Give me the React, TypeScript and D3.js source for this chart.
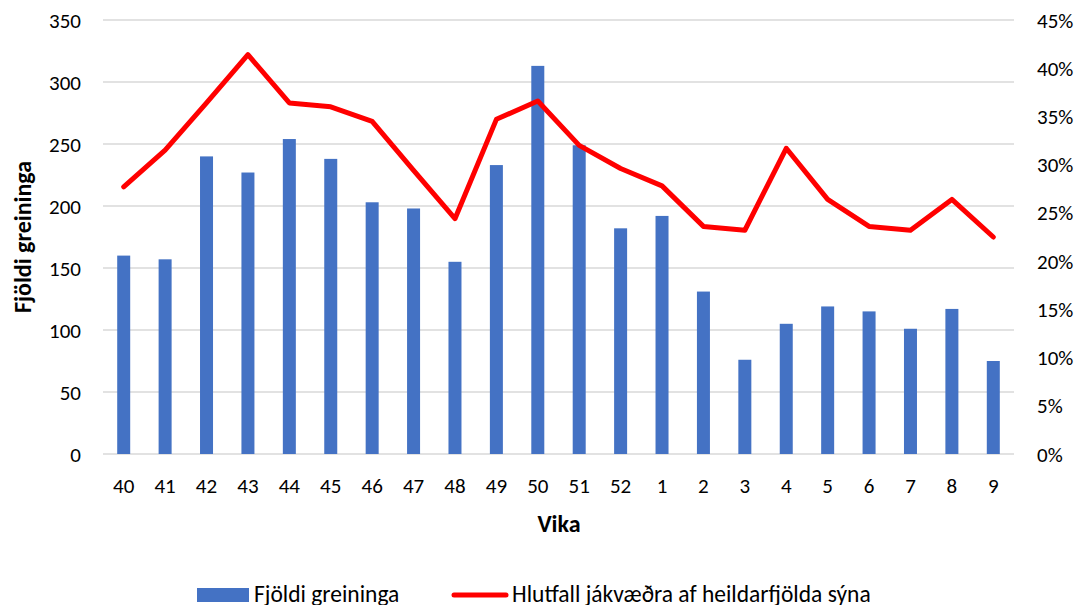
import { useEffect, useRef } from "react";
import * as d3 from "d3";

const weeks = ["40", "41", "42", "43", "44", "45", "46", "47", "48", "49", "50", "51", "52", "1", "2", "3", "4", "5", "6", "7", "8", "9"];
const counts = [160, 157, 240, 227, 254, 238, 203, 198, 155, 233, 313, 249, 182, 192, 131, 76, 105, 119, 115, 101, 117, 75];
const shares = [0.277, 0.315, 0.364, 0.414, 0.364, 0.36, 0.345, 0.294, 0.244, 0.347, 0.366, 0.32, 0.296, 0.278, 0.236, 0.232, 0.317, 0.264, 0.236, 0.232, 0.264, 0.225];
const leftTicks = [0, 50, 100, 150, 200, 250, 300, 350];
const rightTicks = [0, 0.05, 0.1, 0.15, 0.2, 0.25, 0.3, 0.35, 0.4, 0.45];

const FONT = "Carlito, Lato, 'Open Sans', sans-serif";

const App = () => {
  const svgRef = useRef<SVGSVGElement>(null);

  useEffect(() => {
    const svg = d3.select(svgRef.current);
    svg.selectAll("*").remove();

    const left = 103, right = 1014, top = 20, bottom = 454;

    const x = d3.scaleBand().domain(weeks).range([left, right]).padding(0);
    const yL = d3.scaleLinear().domain([0, 350]).range([bottom, top]);
    const yR = d3.scaleLinear().domain([0, 0.45]).range([bottom, top]);
    const barW = 13;
    const cx = (w: string) => (x(w) as number) + x.bandwidth() / 2;

    // gridlines
    svg.append("g")
      .selectAll("line")
      .data(leftTicks)
      .enter()
      .append("line")
      .attr("x1", left)
      .attr("x2", right)
      .attr("y1", (d) => yL(d))
      .attr("y2", (d) => yL(d))
      .attr("stroke", "#d9d9d9")
      .attr("stroke-width", 1.5);

    // left ticks
    svg.append("g")
      .selectAll("text")
      .data(leftTicks)
      .enter()
      .append("text")
      .attr("x", 81)
      .attr("y", (d) => yL(d))
      .attr("dy", "0.36em")
      .attr("text-anchor", "end")
      .style("font-family", FONT)
      .style("font-size", "21px")
      .attr("fill", "#000")
      .text((d) => d);

    // right ticks
    svg.append("g")
      .selectAll("text")
      .data(rightTicks)
      .enter()
      .append("text")
      .attr("x", 1037)
      .attr("y", (d) => yR(d))
      .attr("dy", "0.36em")
      .attr("text-anchor", "start")
      .style("font-family", FONT)
      .style("font-size", "21px")
      .attr("fill", "#000")
      .text((d) => `${Math.round(d * 100)}%`);

    // bars
    svg.append("g")
      .selectAll("rect")
      .data(weeks)
      .enter()
      .append("rect")
      .attr("x", (d) => cx(d) - barW / 2)
      .attr("y", (d, i) => yL(counts[i]))
      .attr("width", barW)
      .attr("height", (d, i) => bottom - yL(counts[i]))
      .attr("fill", "#4472c4");

    // line
    const line = d3.line<string>()
      .x((d) => cx(d))
      .y((d, i) => yR(shares[i]));
    svg.append("path")
      .attr("d", line(weeks))
      .attr("fill", "none")
      .attr("stroke", "#ff0000")
      .attr("stroke-width", 5)
      .attr("stroke-linejoin", "round")
      .attr("stroke-linecap", "round");

    // x tick labels
    svg.append("g")
      .selectAll("text")
      .data(weeks)
      .enter()
      .append("text")
      .attr("x", (d) => cx(d))
      .attr("y", 493)
      .attr("text-anchor", "middle")
      .style("font-family", FONT)
      .style("font-size", "21px")
      .attr("fill", "#000")
      .text((d) => d);

    // axis titles
    svg.append("text")
      .attr("x", 559)
      .attr("y", 532)
      .attr("text-anchor", "middle")
      .style("font-family", FONT)
      .style("font-size", "24px")
      .style("font-weight", "bold")
      .text("Vika");

    svg.append("text")
      .attr("transform", `translate(31,${(top + bottom) / 2}) rotate(-90)`)
      .attr("text-anchor", "middle")
      .style("font-family", FONT)
      .style("font-size", "24px")
      .style("font-weight", "bold")
      .text("Fjöldi greininga");

    // legend
    const lg = svg.append("g");
    lg.append("rect")
      .attr("x", 197)
      .attr("y", 588)
      .attr("width", 52)
      .attr("height", 14)
      .attr("fill", "#4472c4");
    lg.append("text")
      .attr("x", 254)
      .attr("y", 602)
      .style("font-family", FONT)
      .style("font-size", "23.5px")
      .text("Fjöldi greininga");
    lg.append("line")
      .attr("x1", 454)
      .attr("x2", 506)
      .attr("y1", 595)
      .attr("y2", 595)
      .attr("stroke", "#ff0000")
      .attr("stroke-width", 5)
      .attr("stroke-linecap", "round");
    lg.append("text")
      .attr("x", 512)
      .attr("y", 602)
      .style("font-family", FONT)
      .style("font-size", "23.5px")
      .text("Hlutfall jákvæðra af heildarfjölda sýna");
  }, []);

  return (
    <svg
      ref={svgRef}
      width={1085}
      height={605}
      style={{ position: "absolute", left: 0, top: 0, background: "#fff" }}
    ></svg>
  );
};

export default App;
